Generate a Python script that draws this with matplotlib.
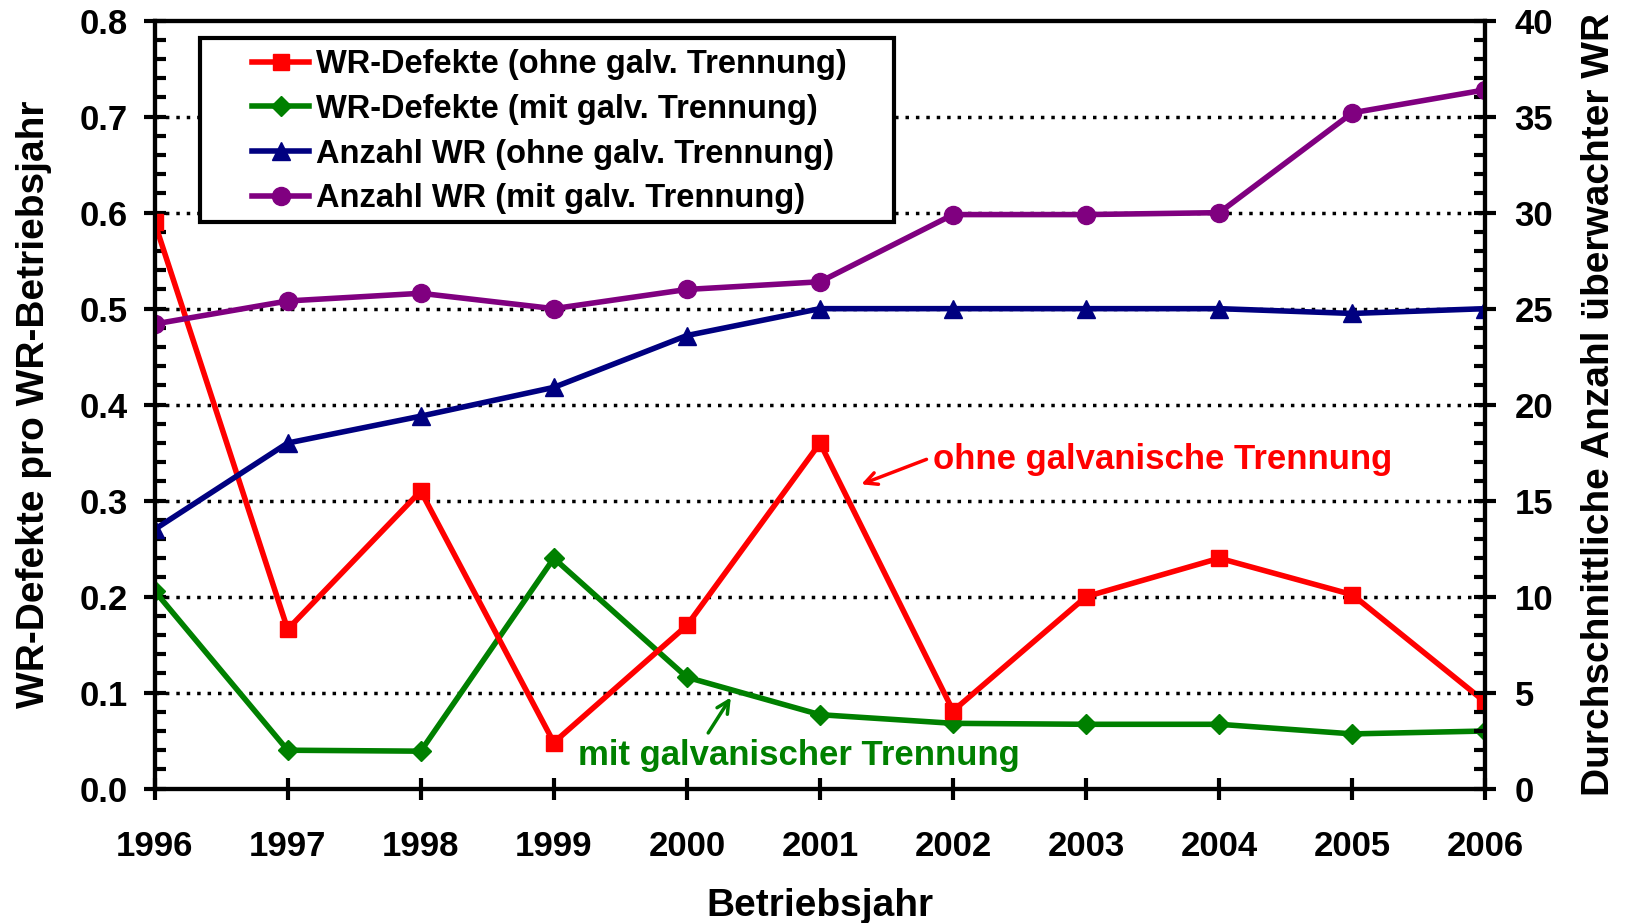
import matplotlib
matplotlib.use("Agg")
import matplotlib.pyplot as plt
from matplotlib.patches import Rectangle
from matplotlib.ticker import MultipleLocator, FormatStrFormatter

# data
years = [1996, 1997, 1998, 1999, 2000, 2001, 2002, 2003, 2004, 2005, 2006]
defekte_ohne = [0.59, 0.166, 0.31, 0.048, 0.17, 0.36, 0.081, 0.20, 0.24, 0.202, 0.09]
defekte_mit = [0.206, 0.040, 0.039, 0.24, 0.116, 0.077, 0.068, 0.067, 0.067, 0.057, 0.060]
anzahl_ohne = [13.5, 18.0, 19.4, 20.9, 23.6, 25.0, 25.0, 25.0, 25.0, 24.75, 25.0]
anzahl_mit = [24.2, 25.4, 25.8, 25.0, 26.0, 26.4, 29.9, 29.9, 30.0, 35.2, 36.4]

labels = ['WR-Defekte (ohne galv. Trennung)', 'WR-Defekte (mit galv. Trennung)',
          'Anzahl WR (ohne galv. Trennung)', 'Anzahl WR (mit galv. Trennung)']

plt.rcParams['font.family'] = ['Liberation Sans', 'DejaVu Sans']
plt.rcParams['font.weight'] = 'bold'

fig = plt.figure(figsize=(16.27, 9.23), dpi=100)
ax = fig.add_axes([0.095, 0.1456, 0.818, 0.832])
ax2 = ax.twinx()

lw = 4
l1, = ax.plot(years, defekte_ohne, color='#ff0000', lw=lw, marker='s', ms=12, zorder=4)
l2, = ax.plot(years, defekte_mit, color='#008000', lw=lw, marker='D', ms=10, zorder=3)
l3, = ax2.plot(years, anzahl_ohne, color='#000080', lw=lw, marker='^', ms=13)
l4, = ax2.plot(years, anzahl_mit, color='#800080', lw=lw, marker='o', ms=13)

ax.set_xlim(1996, 2006)
ax.set_ylim(0, 0.8)
ax2.set_ylim(0, 40)
ax.set_xticks(years)
ax.yaxis.set_major_locator(MultipleLocator(0.1))
ax.yaxis.set_minor_locator(MultipleLocator(0.02))
ax.yaxis.set_major_formatter(FormatStrFormatter('%.1f'))
ax2.yaxis.set_major_locator(MultipleLocator(5))
ax2.yaxis.set_minor_locator(MultipleLocator(1))

for yv in [0.1, 0.2, 0.3, 0.4, 0.5, 0.6, 0.7]:
    ax.axhline(yv, color='black', lw=2.5, ls=(0, (1, 2)), zorder=1)

for a in (ax, ax2):
    for s in a.spines.values():
        s.set_linewidth(3)
ax.tick_params(axis='both', which='major', direction='inout', length=16, width=3,
               labelsize=25, pad=11)
ax.tick_params(axis='y', which='minor', direction='in', length=8, width=3)
ax2.tick_params(axis='y', which='major', direction='inout', length=16, width=3,
                labelsize=25, pad=13)
ax2.tick_params(axis='y', which='minor', direction='in', length=8, width=3)
ax.tick_params(axis='x', pad=22)

ax.set_xlabel('Betriebsjahr', fontsize=28, fontweight='bold', labelpad=18)
ax.set_ylabel('WR-Defekte pro WR-Betriebsjahr', fontsize=28, fontweight='bold', labelpad=20)
ax2.set_ylabel('Durchschnittliche Anzahl überwachter WR', fontsize=28, fontweight='bold',
               labelpad=20)

ax.text(2001.85, 0.343, 'ohne galvanische Trennung', color='#ff0000', fontsize=25,
        fontweight='bold', va='center', ha='left')
ax.annotate('', xy=(2001.31, 0.317), xytext=(2001.8, 0.343),
            arrowprops=dict(arrowstyle='->', color='#ff0000', lw=2.5,
                            mutation_scale=22, shrinkA=0, shrinkB=0))
ax.text(1999.18, 0.035, 'mit galvanischer Trennung', color='#008000', fontsize=25,
        fontweight='bold', va='center', ha='left')
ax.annotate('', xy=(2000.33, 0.095), xytext=(2000.16, 0.058),
            arrowprops=dict(arrowstyle='->', color='#008000', lw=2.5,
                            mutation_scale=22, shrinkA=0, shrinkB=0))

# legend frame drawn separately, it has a wide left margin in the original
ax2.add_patch(Rectangle((0.0343, 0.738), 0.5214, 0.240, transform=ax2.transAxes,
                        facecolor='white', edgecolor='black', lw=3, zorder=5))
leg = ax2.legend([l1, l2, l3, l4], labels, loc='upper left',
                 bbox_to_anchor=(0.0733, 0.963), fontsize=23.5, frameon=False,
                 handlelength=1.75, borderpad=0, borderaxespad=0,
                 labelspacing=0.42, handletextpad=0.22)
leg.set_zorder(6)
for t in leg.get_texts():
    t.set_fontweight('bold')

fig.savefig('out.png', dpi=100)
